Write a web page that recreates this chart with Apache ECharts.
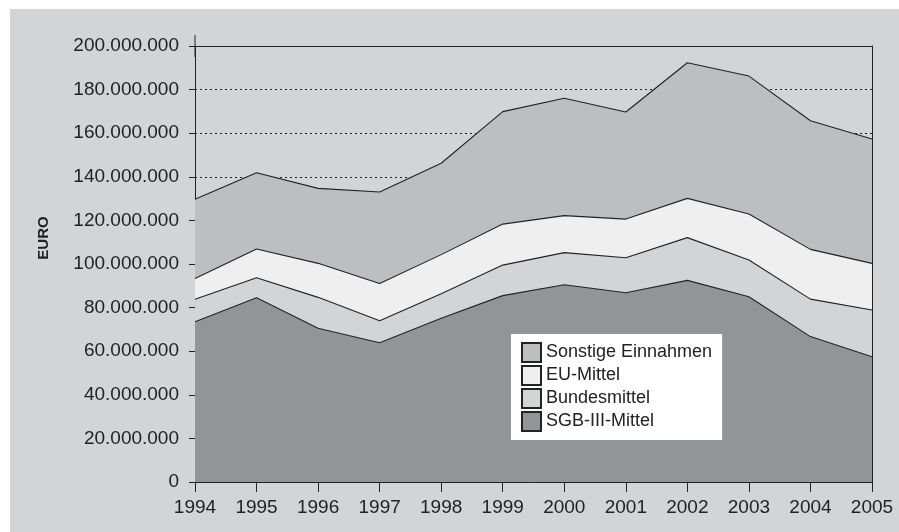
<!DOCTYPE html>
<html>
<head>
<meta charset="utf-8">
<script src="https://cdn.jsdelivr.net/npm/echarts@6/dist/echarts.min.js"></script>
<style>
  html, body { margin: 0; padding: 0; background: #ffffff; }
  #chart { position: absolute; left: 10px; top: 9px; width: 889px; height: 523px; }
</style>
</head>
<body>
<div id="chart"></div>
<script>
  // Werte in Mio. Euro
  var years = ['1994', '1995', '1996', '1997', '1998', '1999', '2000', '2001', '2002', '2003', '2004', '2005'];
  var sgbMittel = [73.5, 84.5, 70.5, 63.9, 75.1, 85.5, 90.5, 86.8, 92.5, 85.0, 66.7, 57.5];
  var bundesMittel = [10.3, 9.2, 14.2, 10.1, 11.3, 14.0, 14.7, 16.1, 19.6, 16.8, 17.2, 21.4];
  var euMittel = [9.6, 13.2, 15.6, 17.1, 17.9, 18.8, 17.0, 17.7, 18.0, 21.1, 22.8, 21.4];
  var sonstige = [36.3, 35.0, 34.4, 41.9, 41.9, 51.6, 53.8, 49.1, 62.2, 63.3, 59.0, 57.0];

  var toEuro = function (arr) {
    return arr.map(function (v) { return Math.round(v * 1000000); });
  };
  var fmt = function (v) {
    return String(v).replace(/\B(?=(\d{3})+(?!\d))/g, '.');
  };

  var font = 'Liberation Sans';
  var lineColor = '#222222';

  var makeSeries = function (name, data, color) {
    return {
      name: name,
      type: 'line',
      stack: 'total',
      data: toEuro(data),
      symbol: 'none',
      lineStyle: { color: lineColor, width: 1.1 },
      itemStyle: { color: color, borderColor: lineColor, borderWidth: 1 },
      areaStyle: { color: color, opacity: 1 }
    };
  };

  var chart = echarts.init(document.getElementById('chart'));
  chart.setOption({
    backgroundColor: '#d3d4d6',
    animation: false,
    grid: {
      left: 185,
      top: 37,
      right: 27,
      bottom: 50
    },
    legend: {
      left: 501,
      top: 325,
      orient: 'vertical',
      backgroundColor: '#ffffff',
      padding: [8, 10, 8, 10],
      itemWidth: 19,
      itemHeight: 19,
      itemGap: 2,
      icon: 'rect',
      selectedMode: false,
      textStyle: { fontFamily: font, fontSize: 18, color: '#222222' },
      data: ['Sonstige Einnahmen', 'EU-Mittel', 'Bundesmittel', 'SGB-III-Mittel']
    },
    xAxis: [{
      type: 'category',
      boundaryGap: false,
      data: years,
      axisLine: { lineStyle: { color: lineColor, width: 1 } },
      axisTick: { length: 10, lineStyle: { color: lineColor } },
      axisLabel: { fontFamily: font, fontSize: 19, color: '#222222', margin: 16 }
    }, {
      type: 'category',
      position: 'top',
      boundaryGap: false,
      data: years,
      z: 5,
      axisLine: { show: true, onZero: false, lineStyle: { color: lineColor, width: 1 } },
      axisTick: { show: false },
      axisLabel: { show: false },
      splitLine: { show: false }
    }],
    yAxis: [{
      type: 'value',
      min: 0,
      max: 200000000,
      interval: 20000000,
      name: 'EURO',
      nameLocation: 'middle',
      nameGap: 144,
      nameTextStyle: {
        fontFamily: font, fontSize: 15, fontWeight: 'bold', color: '#222222',
        padding: [0, 0, 0, 52]
      },
      axisLine: {
        show: true,
        lineStyle: { color: lineColor, width: 1 },
        symbol: ['none', 'rect'],
        symbolSize: [1, 22]
      },
      axisTick: { show: true, length: 6, lineStyle: { color: lineColor } },
      axisLabel: { fontFamily: font, fontSize: 19, color: '#222222', margin: 16, formatter: fmt },
      splitLine: { lineStyle: { color: lineColor, type: [2, 3], width: 1 } }
    }, {
      type: 'value',
      position: 'right',
      min: 0,
      max: 200000000,
      interval: 20000000,
      z: 5,
      axisLine: { show: true, onZero: false, lineStyle: { color: lineColor, width: 1 } },
      axisTick: { show: false },
      axisLabel: { show: false },
      splitLine: { show: false }
    }],
    series: [
      makeSeries('SGB-III-Mittel', sgbMittel, '#939498'),
      makeSeries('Bundesmittel', bundesMittel, '#d3d4d6'),
      makeSeries('EU-Mittel', euMittel, '#efefef'),
      makeSeries('Sonstige Einnahmen', sonstige, '#bdbec1')
    ]
  });
</script>
</body>
</html>
